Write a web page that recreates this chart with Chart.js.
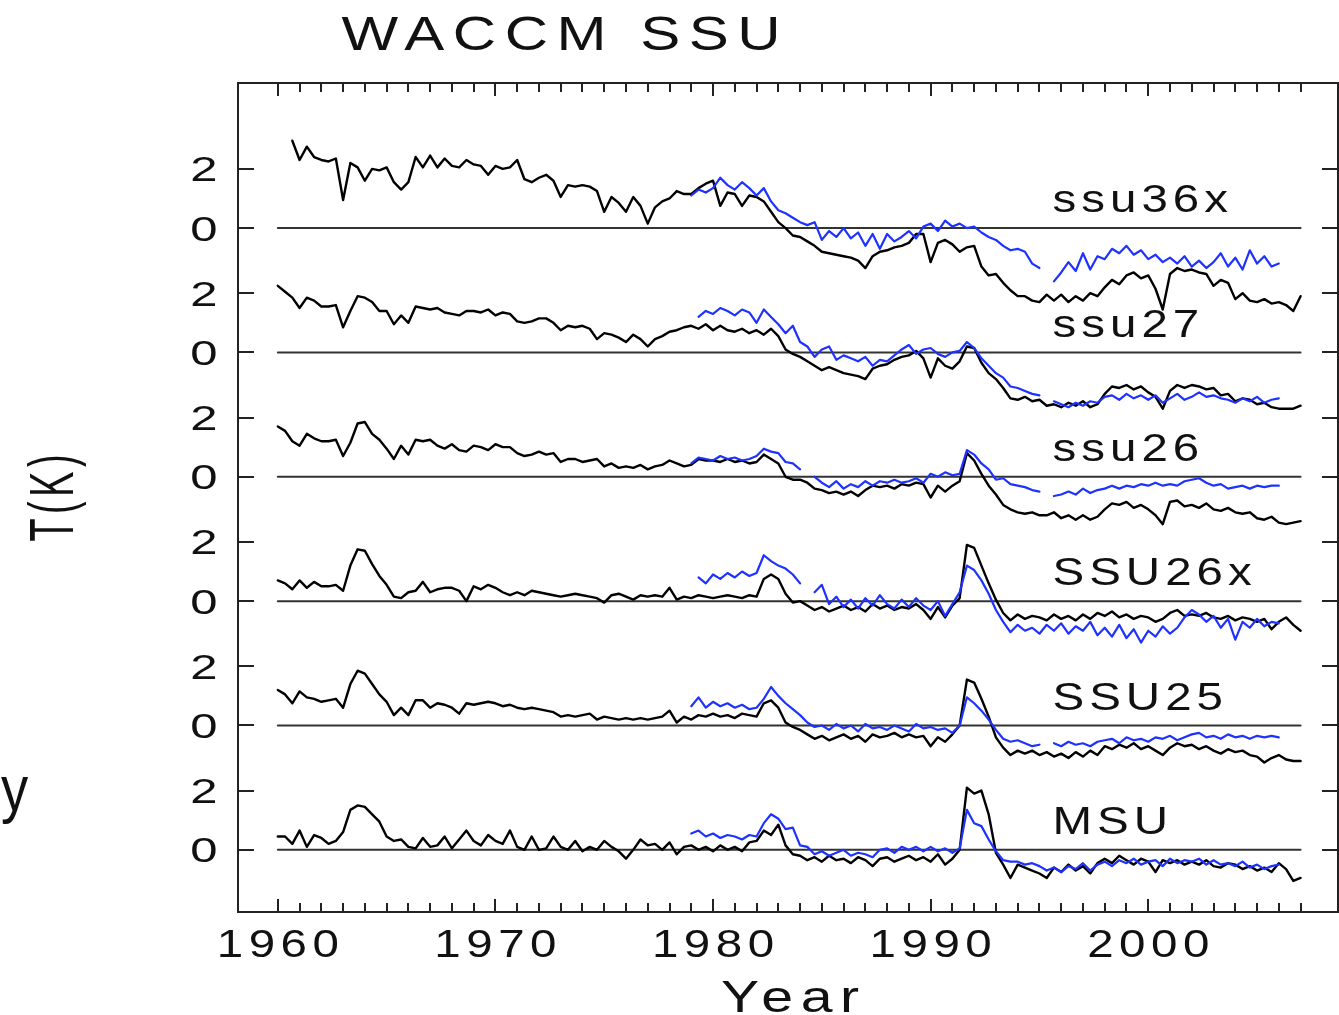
<!DOCTYPE html>
<html>
<head>
<meta charset="utf-8">
<title>WACCM SSU</title>
<script src="https://cdn.jsdelivr.net/npm/chart.js@4.4.0/dist/chart.umd.min.js"></script>
<style>
  html, body { margin: 0; padding: 0; background: #fff; }
  #wrap { position: relative; width: 1339px; height: 1015px; }
</style>
</head>
<body>
<div id="wrap"><canvas id="chart" width="1339" height="1015"></canvas></div>
<script>
// panel labels, bottom to top, each panel shifted up by panelStep K
const panelNames = ['MSU', 'SSU25', 'SSU26x', 'ssu26', 'ssu27', 'ssu36x'];
const panelStep = 4.2;
const xTickYears = [1960, 1970, 1980, 1990, 2000];
const yTickValues = [0, 2];
const zeroLineYears = [1960, 2007];

// sampling of the series: 3 values per year
const modelStart = 1960;
const obsStart = 1979;
const perYear = 3;

// WACCM (black), 1960.0 .. 2007.0
const waccmSsu36x = [
  null, null, 2.95, 2.3, 2.75, 2.4, 2.3, 2.25, 2.35, 0.95, 2.2, 2.05, 1.6, 2.0, 1.95,
  2.05, 1.55, 1.3, 1.55, 2.4, 2.05, 2.45, 2.05, 2.35, 2.1, 2.05, 2.3, 2.15, 2.1, 1.8,
  2.1, 2.0, 2.05, 2.3, 1.65, 1.55, 1.7, 1.8, 1.6, 1.05, 1.45, 1.4, 1.45, 1.4, 1.25,
  0.55, 1.05, 0.85, 0.55, 1.05, 0.75, 0.15, 0.7, 0.9, 1.0, 1.25, 1.15, 1.15, 1.35, 1.5,
  1.6, 0.75, 1.2, 1.15, 0.75, 1.1, 1.05, 0.9, 0.55, 0.2, 0.0, -0.25, -0.3, -0.45, -0.6,
  -0.8, -0.85, -0.9, -0.95, -1.0, -1.1, -1.35, -0.95, -0.8, -0.75, -0.65, -0.6, -0.5, -0.2, -0.2,
  -1.15, -0.5, -0.4, -0.55, -0.8, -0.65, -0.6, -1.3, -1.6, -1.55, -1.85, -2.1, -2.3, -2.3, -2.45,
  -2.5, -2.25, -2.45, -2.25, -2.5, -2.3, -2.45, -2.2, -2.3, -2.0, -1.75, -1.9, -1.6, -1.5, -1.7,
  -1.6, -2.05, -2.75, -1.55, -1.35, -1.45, -1.4, -1.5, -1.55, -1.95, -1.75, -1.85, -2.4, -2.2, -2.45,
  -2.5, -2.4, -2.55, -2.5, -2.6, -2.8, -2.3
];
const waccmSsu27 = [
  2.25, 2.05, 1.85, 1.5, 1.85, 1.75, 1.55, 1.55, 1.6, 0.85, 1.4, 1.9, 1.85, 1.7, 1.4,
  1.4, 0.95, 1.25, 1.0, 1.55, 1.5, 1.45, 1.5, 1.35, 1.3, 1.25, 1.4, 1.4, 1.35, 1.45,
  1.25, 1.35, 1.3, 1.05, 1.0, 1.05, 1.15, 1.15, 1.0, 0.75, 0.9, 0.85, 0.9, 0.8, 0.45,
  0.65, 0.6, 0.5, 0.35, 0.6, 0.45, 0.2, 0.45, 0.55, 0.7, 0.75, 0.85, 0.9, 0.8, 0.95,
  0.75, 0.9, 0.75, 0.7, 0.8, 0.65, 0.75, 0.6, 0.8, 0.55, 0.1, -0.05, -0.15, -0.3, -0.45,
  -0.6, -0.5, -0.6, -0.7, -0.75, -0.8, -0.9, -0.55, -0.45, -0.4, -0.25, -0.15, -0.1, 0.05, -0.2,
  -0.85, -0.2, -0.45, -0.55, -0.3, 0.2, 0.15, -0.35, -0.7, -0.9, -1.2, -1.55, -1.6, -1.5, -1.65,
  -1.6, -1.8, -1.75, -1.85, -1.7, -1.8, -1.65, -1.85, -1.75, -1.4, -1.15, -1.2, -1.1, -1.25, -1.15,
  -1.35, -1.5, -1.9, -1.3, -1.1, -1.2, -1.1, -1.15, -1.25, -1.2, -1.45, -1.4, -1.65, -1.55, -1.6,
  -1.75, -1.7, -1.85, -1.9, -1.9, -1.9, -1.8
];
const waccmSsu26 = [
  1.7, 1.55, 1.2, 1.05, 1.45, 1.3, 1.2, 1.2, 1.25, 0.7, 1.15, 1.8, 1.85, 1.45, 1.25,
  0.95, 0.6, 1.05, 0.75, 1.25, 1.2, 1.25, 1.05, 0.95, 1.1, 0.9, 0.85, 1.05, 1.0, 0.9,
  1.1, 1.0, 1.0, 0.8, 0.7, 0.75, 0.85, 0.75, 0.8, 0.5, 0.6, 0.6, 0.5, 0.55, 0.6,
  0.35, 0.45, 0.3, 0.35, 0.3, 0.4, 0.25, 0.35, 0.4, 0.55, 0.45, 0.35, 0.4, 0.6, 0.55,
  0.55, 0.5, 0.6, 0.5, 0.55, 0.45, 0.5, 0.75, 0.6, 0.45, 0.0, -0.1, -0.1, -0.2, -0.4,
  -0.45, -0.55, -0.5, -0.6, -0.5, -0.65, -0.45, -0.3, -0.35, -0.3, -0.4, -0.25, -0.3, -0.2, -0.25,
  -0.7, -0.3, -0.5, -0.3, -0.15, 0.8, 0.55, 0.1, -0.3, -0.6, -0.95, -1.1, -1.2, -1.25, -1.2,
  -1.3, -1.3, -1.2, -1.4, -1.3, -1.45, -1.3, -1.45, -1.35, -1.1, -0.9, -0.95, -0.85, -1.05, -0.95,
  -1.1, -1.3, -1.6, -0.85, -0.8, -1.0, -0.95, -1.05, -0.9, -1.1, -1.15, -1.05, -1.2, -1.25, -1.2,
  -1.4, -1.45, -1.35, -1.55, -1.6, -1.55, -1.5
];
const waccmSsu26x = [
  0.7, 0.6, 0.4, 0.7, 0.45, 0.65, 0.5, 0.5, 0.55, 0.35, 1.2, 1.75, 1.7, 1.25, 0.85,
  0.55, 0.15, 0.1, 0.3, 0.35, 0.65, 0.3, 0.4, 0.45, 0.45, 0.35, 0.0, 0.5, 0.4, 0.55,
  0.45, 0.3, 0.2, 0.3, 0.2, 0.35, 0.3, 0.25, 0.2, 0.15, 0.2, 0.25, 0.2, 0.15, 0.1,
  -0.05, 0.2, 0.25, 0.15, 0.05, 0.2, 0.15, 0.2, 0.15, 0.45, 0.05, 0.15, 0.1, 0.2, 0.15,
  0.1, 0.15, 0.2, 0.15, 0.1, 0.2, 0.15, 0.75, 0.9, 0.75, 0.25, -0.05, 0.0, -0.15, -0.3,
  -0.2, -0.35, -0.25, -0.15, -0.3, -0.2, -0.35, -0.1, -0.25, -0.15, -0.3, -0.2, -0.25, -0.1, -0.3,
  -0.6, -0.2, -0.55, -0.15, 0.1, 1.9, 1.8, 1.2, 0.6, 0.05, -0.4, -0.65, -0.45, -0.6, -0.5,
  -0.55, -0.65, -0.45, -0.6, -0.5, -0.65, -0.45, -0.6, -0.4, -0.5, -0.35, -0.55, -0.45, -0.6, -0.5,
  -0.55, -0.7, -0.6, -0.4, -0.3, -0.5, -0.45, -0.5, -0.4, -0.55, -0.6, -0.5, -0.65, -0.55, -0.6,
  -0.7, -0.6, -0.95, -0.7, -0.55, -0.8, -1.0
];
const waccmSsu25 = [
  1.2, 1.05, 0.75, 1.15, 0.95, 0.9, 0.8, 0.85, 0.9, 0.6, 1.4, 1.85, 1.75, 1.4, 1.05,
  0.8, 0.35, 0.6, 0.35, 0.85, 0.85, 0.6, 0.75, 0.7, 0.6, 0.4, 0.75, 0.7, 0.75, 0.8,
  0.75, 0.65, 0.7, 0.6, 0.55, 0.6, 0.55, 0.5, 0.45, 0.3, 0.35, 0.3, 0.35, 0.4, 0.2,
  0.3, 0.25, 0.2, 0.25, 0.2, 0.25, 0.2, 0.25, 0.3, 0.5, 0.1, 0.3, 0.2, 0.35, 0.3,
  0.4, 0.3, 0.35, 0.25, 0.4, 0.35, 0.3, 0.75, 0.85, 0.6, 0.1, -0.05, -0.15, -0.3, -0.45,
  -0.35, -0.5, -0.4, -0.3, -0.45, -0.35, -0.55, -0.3, -0.4, -0.35, -0.25, -0.4, -0.3, -0.4, -0.35,
  -0.7, -0.4, -0.55, -0.3, 0.0, 1.55, 1.45, 0.9, 0.3, -0.4, -0.75, -1.0, -0.85, -0.95, -0.85,
  -1.0, -0.9, -1.05, -0.95, -1.1, -0.9, -1.05, -0.85, -1.0, -0.7, -0.8, -0.65, -0.75, -0.6, -0.8,
  -0.7, -0.85, -1.0, -0.75, -0.6, -0.7, -0.65, -0.8, -0.7, -0.85, -0.95, -0.8, -0.9, -0.85, -1.0,
  -1.05, -1.25, -1.1, -1.0, -1.15, -1.2, -1.2
];
const waccmMsu = [
  0.45, 0.45, 0.2, 0.65, 0.1, 0.5, 0.4, 0.2, 0.3, 0.6, 1.35, 1.5, 1.45, 1.2, 0.95,
  0.45, 0.3, 0.35, 0.1, 0.05, 0.4, 0.1, 0.15, 0.45, 0.05, 0.35, 0.65, 0.3, 0.15, 0.5,
  0.3, 0.2, 0.65, 0.1, 0.0, 0.45, 0.0, 0.05, 0.45, 0.1, 0.0, 0.3, -0.05, 0.1, 0.0,
  0.3, 0.1, -0.05, -0.3, 0.0, 0.35, 0.15, 0.2, 0.0, 0.25, -0.15, 0.1, 0.15, 0.0, 0.1,
  -0.05, 0.15, 0.0, 0.1, -0.05, 0.25, 0.3, 0.65, 0.5, 0.85, 0.15, -0.15, -0.2, -0.35, -0.25,
  -0.4, -0.2, -0.35, -0.3, -0.45, -0.25, -0.35, -0.55, -0.3, -0.25, -0.4, -0.3, -0.2, -0.35, -0.25,
  -0.4, -0.15, -0.5, -0.3, 0.0, 2.1, 1.9, 2.0, 1.2, -0.1, -0.5, -0.95, -0.5, -0.6, -0.7,
  -0.8, -0.95, -0.6, -0.75, -0.5, -0.7, -0.55, -0.8, -0.45, -0.3, -0.45, -0.2, -0.35, -0.5, -0.3,
  -0.4, -0.75, -0.35, -0.45, -0.35, -0.5, -0.4, -0.5, -0.35, -0.55, -0.6, -0.45, -0.5, -0.65, -0.55,
  -0.7, -0.6, -0.75, -0.45, -0.65, -1.05, -0.95
];

// SSU / MSU observations (blue), 1979.0 .. 2006.0
const obsSsu36x = [
  1.1, 1.3, 1.2, 1.35, 1.7, 1.45, 1.3, 1.55, 1.35, 1.1, 1.35, 0.9, 0.6, 0.5, 0.35,
  0.2, 0.1, 0.2, -0.4, -0.1, -0.3, 0.0, -0.35, -0.15, -0.6, -0.2, -0.7, -0.2, -0.45, -0.3,
  -0.1, -0.35, 0.05, 0.15, -0.1, 0.25, 0.05, 0.15, 0.0, 0.05, -0.15, -0.3, -0.4, -0.6, -0.75,
  -0.7, -0.8, -1.2, -1.35, null, -1.8, -1.5, -1.15, -1.45, -0.85, -1.4, -0.95, -1.05, -0.7, -0.85,
  -0.6, -0.9, -0.75, -1.05, -0.9, -1.15, -1.0, -1.2, -0.95, -1.3, -1.1, -1.35, -1.15, -0.85, -1.3,
  -1.0, -1.4, -0.75, -1.2, -0.95, -1.3, -1.2
];
const obsSsu27 = [
  null, 1.2, 1.4, 1.3, 1.5, 1.4, 1.25, 1.45, 1.35, 1.0, 1.45, 1.2, 0.95, 0.65, 0.9,
  0.35, 0.2, -0.15, 0.1, 0.2, -0.25, -0.1, -0.2, -0.3, -0.15, -0.45, -0.25, -0.3, -0.1, 0.1,
  0.25, -0.05, 0.1, 0.15, -0.05, -0.15, 0.0, 0.05, 0.35, 0.15, -0.2, -0.45, -0.7, -0.85, -1.15,
  -1.2, -1.3, -1.4, -1.45, null, -1.65, -1.75, -1.85, -1.7, -1.8, -1.65, -1.7, -1.5, -1.45, -1.6,
  -1.4, -1.55, -1.45, -1.6, -1.45, -1.7, -1.55, -1.4, -1.6, -1.5, -1.35, -1.5, -1.45, -1.55, -1.6,
  -1.7, -1.55, -1.65, -1.5, -1.7, -1.6, -1.55
];
const obsSsu26 = [
  0.45, 0.65, 0.6, 0.55, 0.7, 0.6, 0.65, 0.55, 0.6, 0.7, 0.95, 0.85, 0.8, 0.5, 0.45,
  0.25, null, 0.0, -0.2, -0.35, -0.15, -0.4, -0.25, -0.35, -0.15, -0.3, -0.15, -0.2, -0.1, -0.2,
  -0.15, -0.05, -0.2, 0.1, 0.0, 0.15, 0.05, 0.1, 0.9, 0.75, 0.45, 0.25, -0.1, -0.05, -0.25,
  -0.3, -0.35, -0.45, -0.5, null, -0.65, -0.6, -0.5, -0.6, -0.4, -0.55, -0.45, -0.4, -0.3, -0.4,
  -0.3, -0.35, -0.25, -0.3, -0.2, -0.3, -0.25, -0.3, -0.15, -0.1, -0.05, -0.2, -0.3, -0.25, -0.4,
  -0.35, -0.3, -0.4, -0.3, -0.35, -0.3, -0.3
];
const obsSsu26x = [
  null, 0.8, 0.6, 0.9, 0.75, 0.95, 0.8, 1.0, 0.85, 0.95, 1.55, 1.35, 1.2, 1.1, 0.9,
  0.6, null, 0.3, 0.55, -0.1, 0.15, -0.2, 0.05, -0.25, 0.1, -0.15, 0.2, -0.1, -0.25, 0.05,
  -0.2, 0.1, -0.15, -0.3, 0.0, -0.5, -0.1, 0.3, 1.2, 1.05, 0.7, 0.25, -0.3, -0.7, -1.05,
  -0.8, -1.0, -0.9, -1.1, -0.8, -1.0, -0.75, -1.1, -0.85, -1.0, -0.7, -1.15, -0.9, -1.2, -0.8,
  -1.25, -0.95, -1.4, -1.0, -1.2, -0.85, -1.1, -0.9, -0.55, -0.3, -0.45, -0.7, -0.5, -0.9, -0.6,
  -1.3, -0.7, -0.9, -0.6, -0.85, -0.7, -0.75
];
const obsSsu25 = [
  0.65, 0.95, 0.6, 0.8, 0.65, 0.75, 0.6, 0.7, 0.55, 0.6, 0.9, 1.3, 1.0, 0.75, 0.55,
  0.35, 0.1, -0.05, 0.0, -0.15, 0.05, -0.1, 0.0, -0.2, 0.05, -0.1, -0.05, -0.15, 0.0, -0.1,
  -0.2, 0.05, -0.1, -0.05, -0.15, -0.1, -0.25, 0.0, 0.95, 0.75, 0.5, 0.2, -0.15, -0.45, -0.55,
  -0.5, -0.6, -0.7, -0.65, null, -0.6, -0.7, -0.55, -0.65, -0.6, -0.7, -0.55, -0.5, -0.45, -0.6,
  -0.4, -0.5, -0.45, -0.55, -0.4, -0.45, -0.35, -0.5, -0.4, -0.3, -0.25, -0.4, -0.35, -0.45, -0.3,
  -0.4, -0.35, -0.45, -0.35, -0.4, -0.35, -0.4
];
const obsMsu = [
  0.55, 0.65, 0.45, 0.55, 0.4, 0.5, 0.45, 0.35, 0.5, 0.45, 0.9, 1.2, 1.05, 0.7, 0.75,
  0.15, 0.1, -0.15, -0.05, -0.2, -0.1, 0.0, -0.2, -0.1, -0.15, -0.25, 0.0, 0.05, -0.1, 0.1,
  0.0, 0.1, -0.05, 0.1, -0.05, 0.05, -0.1, 0.05, 1.35, 0.9, 0.8, 0.35, -0.05, -0.35, -0.4,
  -0.4, -0.5, -0.45, -0.55, -0.7, -0.6, -0.75, -0.55, -0.65, -0.45, -0.7, -0.5, -0.4, -0.55, -0.35,
  -0.45, -0.3, -0.5, -0.4, -0.35, -0.55, -0.3, -0.45, -0.35, -0.4, -0.3, -0.5, -0.35, -0.5, -0.45,
  -0.55, -0.4, -0.6, -0.5, -0.65, -0.55, -0.5
];

const modelSeries = [waccmMsu, waccmSsu25, waccmSsu26x, waccmSsu26, waccmSsu27, waccmSsu36x];
const obsSeries = [obsMsu, obsSsu25, obsSsu26x, obsSsu26, obsSsu27, obsSsu36x];

const BLUE = 'rgb(30, 50, 255)';
const INK = '#111';
const FONT = '"Liberation Sans", Arial, Helvetica, sans-serif';

function toPoints(values, start, offset) {
  return values.map((v, i) => ({ x: start + i / perYear, y: v === null ? null : v + offset }));
}

const datasets = [];
panelNames.forEach((name, k) => {
  const off = k * panelStep;
  datasets.push({
    label: name + ' obs',
    data: toPoints(obsSeries[k], obsStart, off),
    borderColor: BLUE, borderWidth: 2.2, order: 0
  });
  datasets.push({
    label: name + ' WACCM',
    data: toPoints(modelSeries[k], modelStart, off),
    borderColor: '#000', borderWidth: 2.4, order: 1
  });
  datasets.push({
    label: name + ' zero',
    data: zeroLineYears.map(yr => ({ x: yr, y: off })),
    borderColor: '#333', borderWidth: 2, order: 2
  });
});

// text with horizontal stretch and letter spacing (the original uses a wide stroke font)
function drawText(ctx, text, px, py, o) {
  const sx = o.sx || 1;
  const sp = (o.spacing || 0) / sx;
  ctx.save();
  ctx.translate(px, py);
  if (o.rotate) ctx.rotate(o.rotate);
  ctx.scale(sx, 1);
  ctx.font = o.size + 'px ' + FONT;
  ctx.fillStyle = INK;
  ctx.textAlign = 'left';
  ctx.textBaseline = 'alphabetic';
  ctx.letterSpacing = '0px';
  const w = ctx.measureText(text).width + sp * ([...text].length - 1);
  let x0 = 0;
  if (o.align === 'center') x0 = -w / 2;
  else if (o.align === 'right') x0 = -w;
  ctx.letterSpacing = sp + 'px';
  ctx.fillText(text, x0, 0);
  ctx.restore();
}

const framePlugin = {
  id: 'frame',
  afterDraw(chart) {
    const { ctx, chartArea: a } = chart;
    const xs = chart.scales.x, ys = chart.scales.y;
    ctx.save();
    ctx.strokeStyle = '#222';
    ctx.lineWidth = 2;
    ctx.strokeRect(a.left, a.top, a.right - a.left, a.bottom - a.top);

    // year ticks, inward, top and bottom
    ctx.beginPath();
    for (let yr = zeroLineYears[0]; yr <= zeroLineYears[1]; yr++) {
      const px = Math.round(xs.getPixelForValue(yr));
      const len = yr % 10 === 0 ? 13 : 9;
      ctx.moveTo(px, a.top); ctx.lineTo(px, a.top + len);
      ctx.moveTo(px, a.bottom); ctx.lineTo(px, a.bottom - len);
    }
    // 0 and 2 ticks of every panel, both sides
    panelNames.forEach((name, k) => {
      yTickValues.forEach(v => {
        const py = Math.round(ys.getPixelForValue(k * panelStep + v));
        ctx.moveTo(a.left, py); ctx.lineTo(a.left + 16, py);
        ctx.moveTo(a.right, py); ctx.lineTo(a.right - 16, py);
      });
    });
    ctx.stroke();
    ctx.restore();

    // tick labels
    xTickYears.forEach(yr => {
      drawText(ctx, String(yr), xs.getPixelForValue(yr), a.bottom + 45,
        { size: 38, sx: 1.25, spacing: 5.5, align: 'center' });
    });
    panelNames.forEach((name, k) => {
      yTickValues.forEach(v => {
        const py = ys.getPixelForValue(k * panelStep + v);
        drawText(ctx, String(v), 204, py + 12.5, { size: 35, sx: 1.4, align: 'center' });
      });
      drawText(ctx, name, xs.getPixelForValue(1995.6), ys.getPixelForValue(k * panelStep + 0.53),
        { size: 38, sx: 1.25, spacing: 5, align: 'left' });
    });

    // titles
    drawText(ctx, 'WACCM SSU', 561, 50, { size: 48, sx: 1.25, spacing: 8.5, align: 'center' });
    drawText(ctx, 'Year', 790, 1012, { size: 44, sx: 1.3, spacing: 7.5, align: 'center' });
    drawText(ctx, 'T(K)', 73, 498, { size: 63, sx: 0.6, spacing: 4.5, align: 'center', rotate: -Math.PI / 2 });
    drawText(ctx, 'y', 1, 811, { size: 64, sx: 0.85, align: 'left' });
  }
};

new Chart(document.getElementById('chart').getContext('2d'), {
  type: 'line',
  data: { datasets },
  options: {
    responsive: false,
    animation: false,
    events: [],
    layout: { padding: { left: 238, top: 83, right: 1, bottom: 103 } },
    scales: {
      x: { type: 'linear', min: 1958.17, max: 2008.72, display: false },
      y: { type: 'linear', min: -2.1, max: 25.9, display: false }
    },
    elements: {
      point: { radius: 0 },
      line: { tension: 0, borderJoinStyle: 'round', borderCapStyle: 'round' }
    },
    spanGaps: false,
    plugins: { legend: { display: false }, tooltip: { enabled: false } }
  },
  plugins: [framePlugin]
});
</script>
</body>
</html>
